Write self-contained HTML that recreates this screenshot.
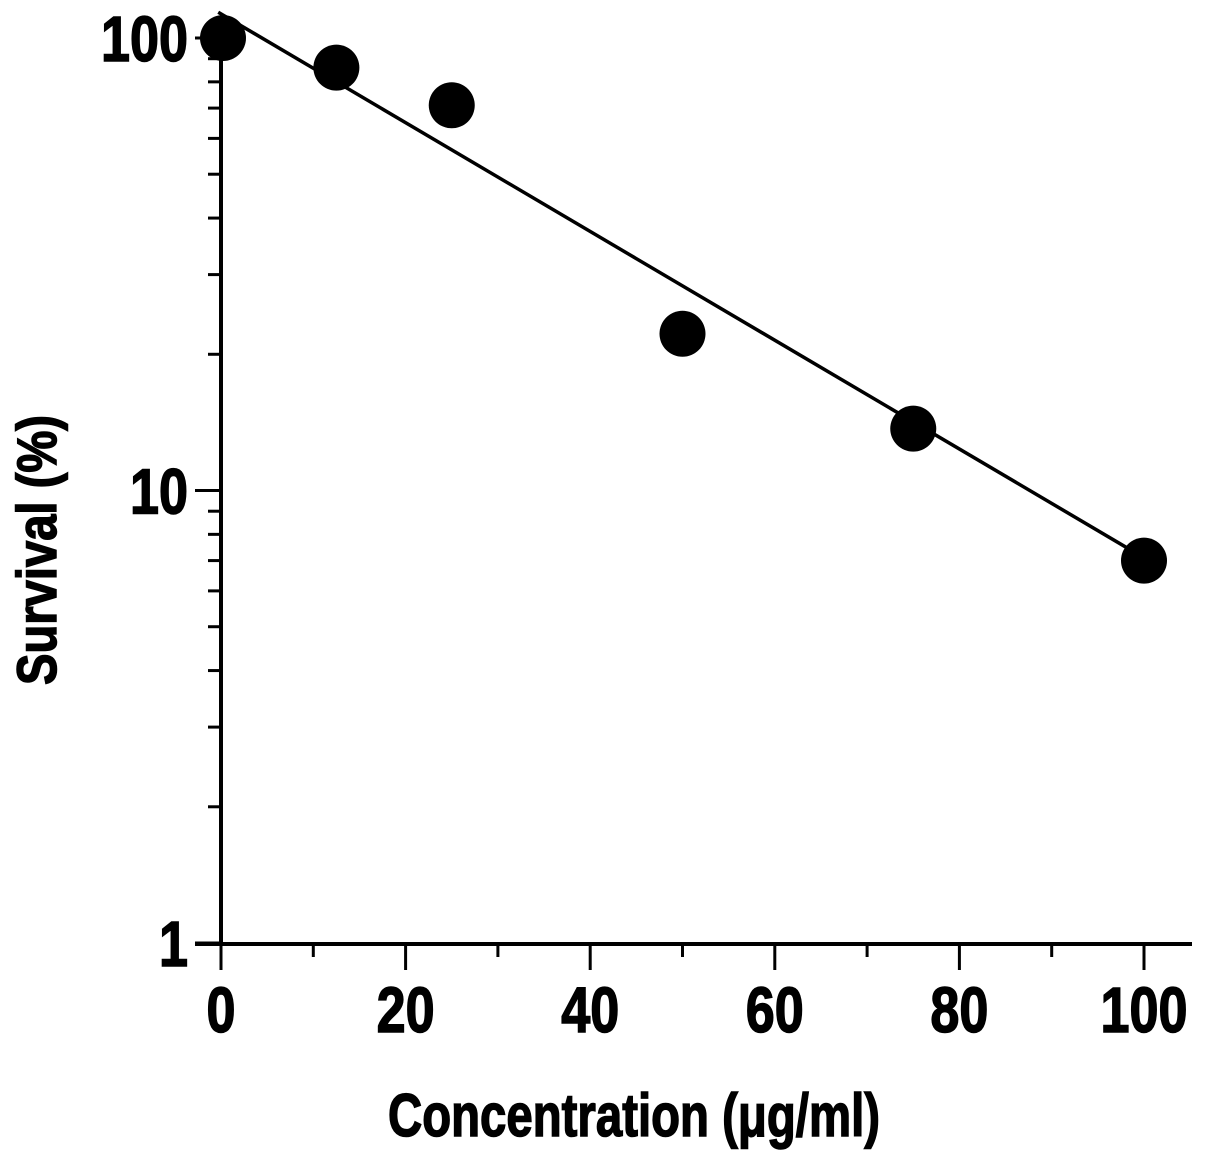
<!DOCTYPE html>
<html><head><meta charset="utf-8"><style>
html,body{margin:0;padding:0;background:#fff;}
svg{display:block;}
text{font-family:"Liberation Sans",sans-serif;font-weight:bold;fill:#000;stroke:#000;stroke-width:1.5;}
</style></head><body>
<svg id="chart" width="1205" height="1156" viewBox="0 0 1205 1156" xmlns="http://www.w3.org/2000/svg">
<g id="axes"></g>
<g id="marks"></g>
<text x="0" y="0" transform="translate(56,550) rotate(-90)" text-anchor="middle" font-size="56" textLength="270" lengthAdjust="spacingAndGlyphs">Survival (%)</text>
<text x="634" y="1136" text-anchor="middle" font-size="60" textLength="492" lengthAdjust="spacingAndGlyphs">Concentration (μg/ml)</text>
</svg>
<script>
const xTicks=[0,20,40,60,80,100];
const xMinor=[10,30,50,70,90];
const yTicks=[1,10,100];
const yMinor=[2,3,4,5,6,7,8,9,20,30,40,50,60,70,80,90];
const concentrations=[0,12.5,25,50,75,100];
const survival=[100,86,71,22.2,13.7,7.0];
const fitX=[-0.3,100];
const fitY=[114,7.1];
const NS="http://www.w3.org/2000/svg";
function sx(v){return 221+v*9.23;}
function sy(v){return 943-Math.log10(v)*452.5;}
const axes=document.getElementById('axes');
const marks=document.getElementById('marks');
function mk(tag,attrs,parent){const e=document.createElementNS(NS,tag);for(const k in attrs)e.setAttribute(k,attrs[k]);parent.appendChild(e);return e;}
let l=mk('line',{x1:221,y1:sy(100),x2:221,y2:944,stroke:'#000','stroke-width':4},axes);


l=mk('line',{x1:195,y1:944,x2:1192,y2:944,stroke:'#000','stroke-width':4},axes);


xTicks.forEach(v=>{
 const t=mk('line',{x1:sx(v),y1:944,x2:sx(v),y2:970,stroke:'#000','stroke-width':3},axes);
 
 
 const tx=mk('text',{x:sx(v),y:1032,'text-anchor':'middle','font-size':64},axes);
 tx.textContent=String(v);
 tx.setAttribute('textLength',String(v).length*29);
 tx.setAttribute('lengthAdjust','spacingAndGlyphs');
 
 
});
xMinor.forEach(v=>{
 const t=mk('line',{x1:sx(v),y1:944,x2:sx(v),y2:957,stroke:'#000','stroke-width':3},axes);
 
 
});
yTicks.forEach(v=>{
 const t=mk('line',{x1:195,y1:sy(v),x2:221,y2:sy(v),stroke:'#000','stroke-width':3},axes);
 
 
 const tx=mk('text',{x:188,y:sy(v)+23,'text-anchor':'end','font-size':64},axes);
 tx.textContent=String(v);
 tx.setAttribute('textLength',String(v).length*29);
 tx.setAttribute('lengthAdjust','spacingAndGlyphs');
 
 
});
yMinor.forEach(v=>{
 const t=mk('line',{x1:208,y1:sy(v),x2:221,y2:sy(v),stroke:'#000','stroke-width':3},axes);
 
 
});
const fl=mk('line',{x1:sx(fitX[0]),y1:sy(fitY[0]),x2:sx(fitX[1]),y2:sy(fitY[1]),stroke:'#000','stroke-width':3.5},marks);


concentrations.forEach((c,i)=>{
 const p=mk('circle',{cx:sx(c)+(i===0?2:0),cy:sy(survival[i]),r:23,fill:'#000'},marks);
 
 
});
</script>
</body></html>
